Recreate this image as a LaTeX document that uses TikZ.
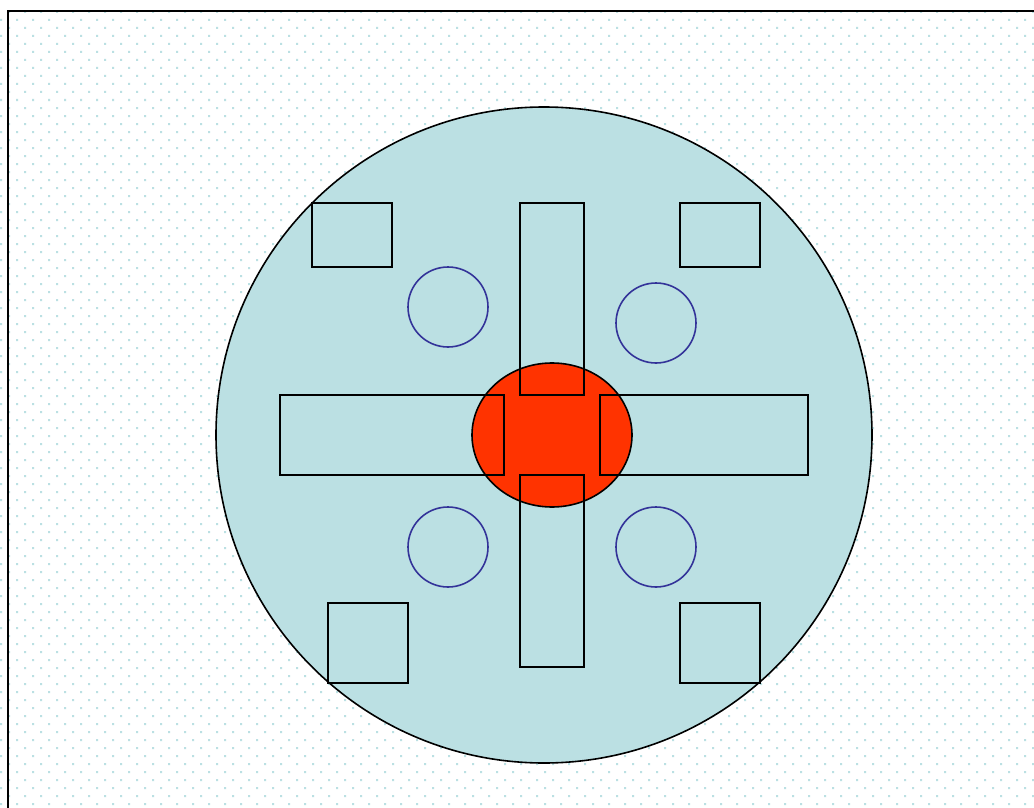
\documentclass[tikz,border=0pt]{standalone}
\definecolor{lightfill}{HTML}{BBE0E3}
\definecolor{dotc}{HTML}{BBE0E3}
\definecolor{hotred}{HTML}{FF3300}
\definecolor{ringblue}{HTML}{333399}
\begin{document}
\begin{tikzpicture}[x=1pt,y=-1pt,
  outline/.style={draw=black,line width=1.6pt},
  block/.style={outline},
  ring/.style={draw=ringblue,line width=1.6pt}]
\useasboundingbox (0,0) rectangle (1034,808);
\clip (0,0) rectangle (1034,808);
\fill[white] (0,0) rectangle (1034,808);
% dotted background
\fill[dotc] \foreach \j in {0,...,49} { \foreach \c in {0,...,64} { (8+16*\c,11+16*\j) rectangle ++(2,2) } };
\fill[dotc] \foreach \j in {0,...,49} { \foreach \c in {0,...,64} { (16*\c,19+16*\j) rectangle ++(2,2) } };
% frame
\draw[line width=2pt] (8,830) -- (8,11) -- (1060,11);
% big disc
\draw[outline,fill=lightfill] (544,435) circle [radius=328];
% red hub
\draw[outline,fill=hotred] (552,435) ellipse [x radius=80, y radius=72];
% corner squares
\draw[block] (312,203) rectangle (392,267);
\draw[block] (680,203) rectangle (760,267);
\draw[block] (328,603) rectangle (408,683);
\draw[block] (680,603) rectangle (760,683);
% bars
\draw[block] (520,203) rectangle (584,395);
\draw[block] (520,475) rectangle (584,667);
\draw[block] (280,395) rectangle (504,475);
\draw[block] (600,395) rectangle (808,475);
% small rings
\draw[ring] (448,307) circle [radius=40];
\draw[ring] (656,323) circle [radius=40];
\draw[ring] (448,547) circle [radius=40];
\draw[ring] (656,547) circle [radius=40];
\end{tikzpicture}
\end{document}
